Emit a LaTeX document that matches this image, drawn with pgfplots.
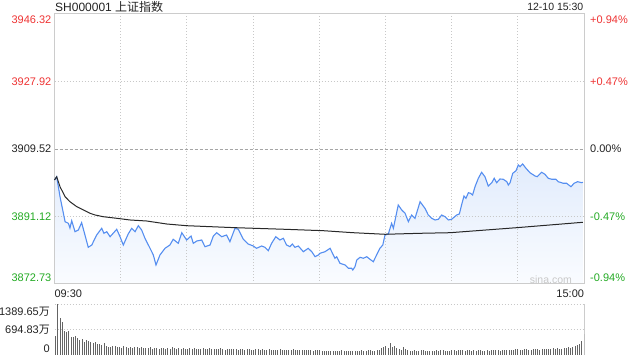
\documentclass[border=0pt]{standalone}
\usepackage{pgfplots}
\pgfplotsset{compat=1.18}
\usepackage{pgfplotstable}
\usepackage{fontspec}
\setmainfont{Liberation Sans}
\newfontfamily\cjk{Noto Sans CJK SC}
\definecolor{pricered}{RGB}{238,51,51}
\definecolor{pricegreen}{RGB}{35,170,35}
\definecolor{textdark}{RGB}{34,34,34}
\definecolor{bordergray}{RGB}{204,204,204}
\definecolor{gridgray}{RGB}{200,200,200}
\definecolor{midgray}{RGB}{165,165,165}
\definecolor{lineblue}{RGB}{85,142,240}
\definecolor{avgline}{RGB}{40,40,40}
\definecolor{filltop}{RGB}{226,236,252}
\definecolor{fillbot}{RGB}{250,252,255}
\definecolor{volgray}{RGB}{100,100,100}
\definecolor{wm}{RGB}{200,200,200}
\newcommand\lab{\fontsize{11bp}{13bp}\selectfont}
\newcommand\dn[1]{\raisebox{-6bp}[\height][\depth]{#1}}
\newcommand\up[1]{\raisebox{6.3bp}[\height][\depth]{#1}}

\pgfplotstableread{
m v
0 3901.08
1.0 3901.97
2.5 3896.52
4.8 3889.71
6.3 3889.27
7.0 3887.99
7.8 3889.98
9.3 3886.98
10.8 3887.45
12.3 3889.44
13.8 3886.09
15.3 3882.73
16.9 3883.36
19.1 3886.09
21.4 3887.91
22.4 3886.55
23.7 3886.98
25.2 3885.62
28.2 3887.64
29.7 3885.62
31.2 3883.36
33.4 3886.36
35.0 3887.91
36.5 3886.98
38.0 3888.62
39.5 3887.45
41.0 3885.19
43.3 3882.46
44.8 3880.64
46.0 3877.91
47.8 3880.64
50.1 3882.46
52.3 3883.36
53.8 3884.91
56.1 3883.82
57.7 3886.71
59.9 3884.72
61.9 3885.81
62.9 3883.82
64.5 3884.45
66.7 3884.72
68.2 3882.90
70.5 3883.36
72.0 3885.81
73.5 3886.71
75.8 3885.62
78.0 3886.09
79.5 3884.26
81.8 3887.91
83.3 3887.64
85.6 3884.91
87.8 3883.63
90.1 3883.09
91.6 3882.46
93.9 3883.09
95.4 3882.73
96.9 3881.81
98.4 3883.82
100.3 3885.62
102.2 3884.72
103.7 3885.19
105.2 3883.36
106.7 3882.90
107.8 3883.63
109.0 3882.73
110.5 3883.09
112.8 3881.53
115.0 3882.46
116.6 3881.53
118.1 3880.17
119.6 3880.64
120.3 3881.10
122.6 3881.53
124.9 3882.46
127.1 3879.74
127.9 3880.17
129.4 3878.37
131.7 3877.91
133.2 3877.01
134.7 3877.01
135.2 3876.55
136.2 3877.45
137.0 3879.27
138.5 3880.00
140.0 3879.74
141.5 3880.17
143.0 3879.46
144.5 3878.81
146.0 3880.64
147.5 3882.46
148.8 3883.36
149.8 3886.09
151.3 3886.36
152.1 3887.91
152.8 3889.27
153.6 3887.91
155.8 3894.26
157.4 3892.90
158.9 3892.00
160.4 3889.71
161.9 3891.54
163.4 3890.64
165.7 3895.16
167.9 3893.36
169.4 3891.54
171.0 3890.64
172.5 3890.18
174.0 3890.37
175.5 3891.54
177.0 3891.07
178.5 3890.18
180.0 3890.37
182.3 3891.54
183.5 3891.81
184.5 3894.26
185.6 3896.71
186.5 3896.09
187.6 3897.61
188.6 3897.45
189.5 3896.99
190.6 3899.25
192.1 3901.54
193.6 3903.18
195.1 3901.98
196.6 3899.44
198.2 3900.34
199.3 3901.54
200.4 3900.34
201.9 3901.35
203.4 3901.27
205.0 3900.62
205.7 3899.71
206.5 3900.34
207.7 3902.90
209.2 3903.61
210.2 3905.17
211.0 3904.70
212.2 3905.44
213.7 3904.27
215.5 3903.07
217.8 3902.17
218.8 3901.97
220.8 3903.18
222.3 3902.63
223.8 3901.54
225.4 3901.27
227.3 3901.27
228.3 3900.62
230.6 3900.18
232.1 3900.18
234.1 3899.25
235.5 3900.18
237.1 3900.62
238.9 3900.34
239.5 3900.45
}\price

\pgfplotstableread{
m v
0 3901.08
1.0 3901.97
2.5 3899.25
4.8 3896.52
7.0 3895.16
10.1 3893.80
13.1 3892.90
16.1 3892.00
18.4 3891.54
22.1 3891.07
28.2 3890.64
34.2 3890.18
41.8 3889.90
50.9 3889.08
59.9 3888.62
81.8 3888.08
104.5 3887.64
121.8 3887.26
135.4 3886.71
149.8 3886.28
165.7 3886.55
179.3 3886.71
209.5 3888.08
239.5 3889.55
}\avg

\pgfplotstableread{
v
513
1390
1017
905
653
625
653
485
485
530
457
410
440
345
410
390
345
317
364
300
300
270
330
250
230
215
260
240
210
225
200
235
215
205
225
190
230
215
200
210
195
205
180
210
175
190
200
170
185
200
175
190
165
230
185
170
180
160
195
175
170
180
165
190
170
155
175
200
160
170
185
165
155
175
160
180
170
150
165
175
155
170
160
150
175
165
145
160
170
150
140
160
155
145
165
150
140
155
145
135
150
140
160
145
130
150
140
135
155
130
145
140
125
150
135
130
140
120
135
150
125
110
105
115
120
105
110
120
115
100
125
110
105
115
110
100
120
115
105
130
110
120
135
125
115
110
135
150
200
230
260
195
330
220
250
180
160
145
210
160
130
120
115
135
120
110
125
130
115
120
105
115
110
125
115
130
140
120
110
115
125
140
120
135
145
130
120
150
125
115
130
120
135
125
110
120
130
115
125
135
140
130
120
125
145
135
130
140
125
155
165
150
140
155
160
145
150
165
155
170
150
165
160
175
160
170
185
165
190
175
170
200
185
210
200
225
240
280
300
373
578
}\vol

\begin{document}
\begin{tikzpicture}

% main price panel
\begin{axis}[
  at={(54.5bp,76bp)}, anchor=south west,
  width=529.5bp, height=270bp, scale only axis,
  set layers, clip=false,
  xmin=0, xmax=240, ymin=3872.73, ymax=3946.32,
  axis line style={draw=bordergray, line width=1bp},
  major tick length=0pt,
  tick label style={font=\lab},
  xtick={0,30,...,240},
  xticklabels={\makebox[0pt][l]{09:30},,,,,,,,\makebox[0pt][r]{15:00}},
  xticklabel style={inner sep=0pt, anchor=north, yshift=-5.3bp, text=textdark},
  ytick={3872.73,3891.12,3927.92,3946.32},
  yticklabels={\up{\textcolor{pricegreen}{3872.73}},\textcolor{pricegreen}{3891.12},\textcolor{pricered}{3927.92},\dn{\textcolor{pricered}{3946.32}}},
  yticklabel style={inner sep=0pt, anchor=east, xshift=-3bp},
  extra y ticks={3909.52},
  extra y tick labels={\textcolor{textdark}{3909.52}},
  extra y tick style={grid=major, major grid style={dash pattern=on 3bp off 2bp, midgray, line width=1bp}},
  xmajorgrids, ymajorgrids,
  major grid style={dash pattern=on 1bp off 2bp, gridgray, line width=1bp},
]
\addplot[draw=none, top color=filltop, bottom color=fillbot, on layer=axis background, forget plot] table[x=m, y=v] {\price} |- (axis cs:0,3872.73) -- cycle;
\addplot[lineblue, line width=1.1bp] table[x=m, y=v] {\price};
\addplot[avgline, line width=1bp] table[x=m, y=v] {\avg};
\node[anchor=west, inner sep=0pt, text=textdark, font=\fontsize{12bp}{14bp}\selectfont, xshift=0.5bp, yshift=6.7bp] at (rel axis cs:0,1) {SH000001 {\cjk 上证指数}};
\node[anchor=east, inner sep=0pt, text=textdark, font=\fontsize{10.5bp}{12bp}\selectfont, xshift=-0.5bp, yshift=7bp] at (rel axis cs:1,1) {12-10 15:30};
\node[anchor=east, inner sep=0pt, text=wm, font=\fontsize{10.5bp}{12bp}\selectfont] at (axis cs:234.6,3874.0) {sina.com};
\end{axis}

% right percent labels
\begin{axis}[
  at={(54.5bp,76bp)}, anchor=south west,
  width=529.5bp, height=270bp, scale only axis,
  xmin=0, xmax=240, ymin=3872.73, ymax=3946.32,
  hide x axis, axis y line*=right,
  y axis line style={draw=none},
  major tick length=0pt,
  tick label style={font=\lab},
  ytick={3872.73,3891.12,3909.52,3927.92,3946.32},
  yticklabels={\up{\textcolor{pricegreen}{-0.94\%}},\textcolor{pricegreen}{-0.47\%},\textcolor{textdark}{0.00\%},\textcolor{pricered}{+0.47\%},\dn{\textcolor{pricered}{+0.94\%}}},
  yticklabel style={inner sep=0pt, anchor=west, xshift=6bp},
]
\addplot[draw=none] coordinates {(0,3900) (240,3900)};
\end{axis}

% volume panel
\begin{axis}[
  at={(54.5bp,5bp)}, anchor=south west,
  width=529.5bp, height=50.7bp, scale only axis,
  xmin=-0.5, xmax=240, ymin=0, ymax=1389.65,
  axis line style={draw=none},
  major tick length=0pt,
  tick label style={font=\lab, text=textdark},
  xtick=\empty,
  ytick={0,694.83,1389.65},
  yticklabels={\raisebox{6.7bp}[\height][\depth]{0},694.83{\cjk 万},\raisebox{-7.4bp}[\height][\depth]{1389.65{\cjk 万}}},
  yticklabel style={inner sep=0pt, anchor=east, xshift=-4.5bp},
  extra y ticks={694.83,1389.65},
  extra y tick labels={},
  extra y tick style={grid=major, major grid style={dash pattern=on 1bp off 2bp, gridgray, line width=1bp}},
  extra x ticks={240},
  extra x tick labels={},
  extra x tick style={grid=major, major grid style={solid, bordergray, line width=1bp}},
]
\addplot[ycomb, volgray, line width=1bp, mark=none] table[x expr=\coordindex, y=v] {\vol};
\end{axis}
\pgfresetboundingbox
\useasboundingbox (0,0) rectangle (640bp,360bp);
\end{tikzpicture}
\end{document}
